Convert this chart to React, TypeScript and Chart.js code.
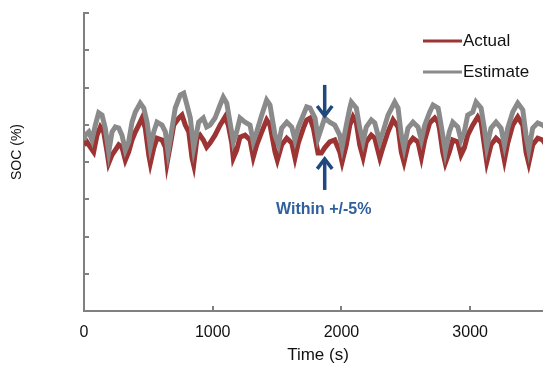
import React, { useEffect, useRef } from "react";
import { Chart, registerables } from "chart.js";

Chart.register(...registerables);

const actualTime = [0, 23, 49, 75, 101, 127, 153, 179, 192, 218, 243, 270, 295, 321, 347, 373, 399, 425, 451, 476, 503, 515, 542, 567, 606, 632, 645, 671, 697, 736, 761, 787, 814, 839, 852, 878, 901, 927, 953, 979, 1018, 1057, 1096, 1121, 1148, 1160, 1186, 1212, 1251, 1290, 1315, 1342, 1381, 1419, 1445, 1484, 1502, 1536, 1575, 1614, 1639, 1665, 1704, 1730, 1756, 1782, 1818, 1844, 1870, 1909, 1948, 1987, 2005, 2038, 2065, 2090, 2116, 2142, 2168, 2193, 2232, 2259, 2298, 2323, 2362, 2401, 2440, 2465, 2486, 2517, 2556, 2595, 2621, 2647, 2686, 2725, 2751, 2761, 2787, 2807, 2838, 2865, 2904, 2929, 2955, 2981, 3020, 3059, 3085, 3110, 3129, 3162, 3201, 3240, 3266, 3292, 3331, 3370, 3409, 3434, 3455, 3486, 3525, 3564, 3600];
const actualSOC = [64.6, 65.4, 64.0, 62.7, 67.2, 69.4, 68.1, 62.7, 59.7, 61.9, 63.2, 64.6, 64.0, 60.5, 62.7, 65.9, 68.1, 69.9, 71.8, 69.1, 61.9, 59.7, 63.8, 66.4, 65.9, 64.0, 59.7, 64.6, 69.9, 71.8, 72.6, 69.9, 68.1, 61.1, 59.2, 66.4, 67.2, 65.9, 64.0, 65.1, 67.2, 69.9, 72.1, 69.9, 65.1, 61.1, 63.2, 66.7, 67.2, 65.9, 61.3, 64.6, 68.1, 71.3, 69.9, 62.7, 60.5, 64.6, 66.4, 65.1, 61.1, 65.1, 69.1, 71.3, 71.8, 69.1, 62.4, 62.4, 63.8, 65.4, 65.9, 62.7, 60.0, 64.6, 69.9, 72.1, 70.5, 64.6, 61.3, 65.4, 67.2, 66.4, 61.1, 64.0, 68.1, 71.3, 69.4, 62.7, 60.0, 64.6, 66.4, 65.4, 61.3, 65.9, 70.5, 71.8, 70.7, 69.1, 62.7, 59.7, 62.7, 65.9, 65.4, 61.9, 63.8, 67.2, 69.9, 72.1, 70.7, 64.6, 60.0, 64.6, 66.4, 65.1, 60.5, 65.1, 69.9, 72.1, 69.9, 62.7, 59.7, 64.6, 66.4, 65.9, 64.0];

const estimateTime = [0, 10, 37, 62, 88, 114, 140, 165, 192, 218, 243, 270, 295, 321, 347, 373, 399, 437, 464, 490, 515, 542, 567, 606, 632, 653, 684, 709, 748, 775, 800, 826, 852, 891, 927, 953, 979, 1018, 1057, 1082, 1109, 1134, 1160, 1186, 1212, 1251, 1290, 1315, 1342, 1381, 1419, 1445, 1484, 1510, 1536, 1575, 1614, 1639, 1665, 1704, 1730, 1756, 1795, 1818, 1844, 1870, 1909, 1948, 1987, 2005, 2038, 2065, 2077, 2116, 2142, 2168, 2193, 2232, 2259, 2298, 2323, 2362, 2414, 2440, 2465, 2486, 2517, 2556, 2595, 2621, 2647, 2686, 2712, 2751, 2761, 2787, 2807, 2838, 2865, 2904, 2929, 2955, 2981, 3020, 3046, 3085, 3110, 3129, 3162, 3201, 3240, 3266, 3292, 3331, 3370, 3409, 3434, 3455, 3486, 3525, 3564, 3600];
const estimateSOC = [65.9, 67.2, 68.1, 65.9, 69.9, 73.2, 72.6, 69.1, 62.7, 68.1, 69.4, 69.1, 67.2, 63.2, 65.4, 70.7, 73.4, 75.8, 74.5, 70.7, 64.0, 68.1, 70.7, 69.9, 68.1, 62.7, 69.1, 74.5, 78.0, 78.5, 75.3, 71.8, 63.8, 70.7, 71.8, 69.4, 69.9, 71.8, 75.3, 77.4, 75.8, 70.7, 65.4, 68.1, 71.8, 70.7, 69.9, 65.4, 68.1, 72.6, 76.6, 75.3, 67.2, 64.6, 69.1, 70.7, 69.4, 65.9, 69.4, 72.6, 74.8, 74.5, 71.8, 66.4, 69.1, 71.8, 70.7, 69.9, 67.2, 64.0, 69.9, 74.5, 76.1, 74.5, 69.1, 65.4, 69.4, 71.3, 70.5, 65.4, 68.1, 72.6, 76.1, 74.5, 67.2, 63.8, 69.1, 70.7, 69.4, 65.9, 69.9, 73.4, 75.3, 74.5, 72.6, 67.2, 62.7, 68.1, 70.7, 69.4, 65.9, 68.1, 72.6, 73.4, 76.1, 74.5, 69.1, 64.0, 69.1, 70.7, 69.1, 64.6, 69.1, 73.4, 75.8, 74.0, 67.2, 63.2, 69.1, 70.5, 69.9, 69.0];

const xTicks = [0, 1000, 2000, 3000];
const seriesNames = ["Actual", "Estimate"];
const annotationText = "Within +/-5%";
const arrowTime = 1870;
const arrowDown = [80.7, 72.1];
const arrowUp = [52.5, 61.1];
const annotationTextSOC = 47.1;

const RED = "#9c3434";
const GRAY = "#8a8a8a";
const AXIS = "#808080";
const NAVY = "#1f497d";
const FONT = "'Liberation Sans', Arial, sans-serif";

export default function App() {
  const ref = useRef<HTMLCanvasElement | null>(null);

  useEffect(() => {
    const canvas = ref.current;
    if (!canvas) return;

    const overlay = {
      id: "overlay",
      afterDraw(chart: any) {
        const ctx = chart.ctx as CanvasRenderingContext2D;
        const xs = chart.scales.x;
        const ys = chart.scales.y;
        const area = chart.chartArea;
        ctx.save();
        // inward tick marks
        ctx.strokeStyle = AXIS;
        ctx.lineWidth = 2;
        ys.ticks.forEach((t: any) => {
          const py = Math.round(ys.getPixelForValue(t.value));
          ctx.beginPath();
          ctx.moveTo(area.left, py);
          ctx.lineTo(area.left + 5, py);
          ctx.stroke();
        });
        xs.ticks.forEach((t: any) => {
          if (t.value === 0) return;
          const px = Math.round(xs.getPixelForValue(t.value));
          ctx.beginPath();
          ctx.moveTo(px, area.bottom);
          ctx.lineTo(px, area.bottom - 5);
          ctx.stroke();
        });
        // axis titles
        ctx.fillStyle = "#111";
        ctx.font = `17px ${FONT}`;
        ctx.textAlign = "center";
        ctx.textBaseline = "middle";
        ctx.fillText("Time (s)", 318, 355);
        ctx.save();
        ctx.translate(17, 152);
        ctx.rotate(-Math.PI / 2);
        ctx.font = `14px ${FONT}`;
        ctx.fillText("SOC (%)", 0, 0);
        ctx.restore();
        // legend
        const legendColors = [RED, GRAY];
        const legendY = [41, 72];
        ctx.font = `17px ${FONT}`;
        ctx.textAlign = "left";
        seriesNames.forEach((name, i) => {
          ctx.strokeStyle = legendColors[i];
          ctx.lineWidth = 3;
          ctx.beginPath();
          ctx.moveTo(423, legendY[i]);
          ctx.lineTo(462, legendY[i]);
          ctx.stroke();
          ctx.fillStyle = "#111";
          ctx.fillText(name, 463, legendY[i]);
        });
        // arrows
        const ax = xs.getPixelForValue(arrowTime);
        const drawArrow = (fromV: number, toV: number) => {
          const y0 = ys.getPixelForValue(fromV);
          const y1 = ys.getPixelForValue(toV);
          const dir = y1 > y0 ? 1 : -1;
          ctx.strokeStyle = NAVY;
          ctx.lineWidth = 3.5;
          ctx.lineCap = "butt";
          ctx.beginPath();
          ctx.moveTo(ax, y0);
          ctx.lineTo(ax, y1 - dir * 1.5);
          ctx.stroke();
          ctx.lineJoin = "miter";
          ctx.beginPath();
          ctx.moveTo(ax - 7.5, y1 - dir * 11);
          ctx.lineTo(ax, y1 - dir * 1);
          ctx.lineTo(ax + 7.5, y1 - dir * 11);
          ctx.stroke();
        };
        drawArrow(arrowDown[0], arrowDown[1]);
        drawArrow(arrowUp[0], arrowUp[1]);
        ctx.fillStyle = "#30609c";
        ctx.font = `bold 16px ${FONT}`;
        ctx.textAlign = "center";
        ctx.fillText(annotationText, ax - 1, ys.getPixelForValue(annotationTextSOC));
        ctx.restore();
      },
    };

    const chart = new Chart(canvas, {
      type: "line",
      data: {
        datasets: [
          {
            label: seriesNames[0],
            data: actualTime.map((t, i) => ({ x: t, y: actualSOC[i] })),
            borderColor: RED,
            borderWidth: 5,
            pointRadius: 0,
            tension: 0,
            order: 1,
          },
          {
            label: seriesNames[1],
            data: estimateTime.map((t, i) => ({ x: t, y: estimateSOC[i] })),
            borderColor: GRAY,
            borderWidth: 5,
            pointRadius: 0,
            tension: 0,
            order: 0,
          },
        ],
      },
      options: {
        responsive: false,
        animation: false,
        layout: { padding: { top: 13, left: 0, right: 0, bottom: 0 } },
        plugins: { legend: { display: false }, tooltip: { enabled: false } },
        scales: {
          x: {
            type: "linear",
            min: 0,
            max: 3566,
            afterBuildTicks: (s: any) => {
              s.ticks = xTicks.map((v) => ({ value: v }));
            },
            afterFit: (s: any) => {
              s.height = 54;
            },
            grid: { display: false },
            border: { display: true, color: AXIS, width: 2 },
            ticks: {
              padding: 4,
              color: "#111",
              font: { family: FONT, size: 16 },
              maxRotation: 0,
              autoSkip: false,
              callback: (v: any) => String(v),
            },
          },
          y: {
            type: "linear",
            min: 20,
            max: 100,
            ticks: { display: false, stepSize: 10 },
            afterFit: (s: any) => {
              s.width = 84;
            },
            grid: { display: false },
            border: { display: true, color: AXIS, width: 2 },
          },
        },
      },
      plugins: [overlay],
    });
    return () => chart.destroy();
  }, []);

  return (
    <div style={{ position: "fixed", left: 0, top: 0, width: 543, height: 365, background: "#fff" }}>
      <canvas ref={ref} width={543} height={365} style={{ width: 543, height: 365, display: "block" }} />
    </div>
  );
}
